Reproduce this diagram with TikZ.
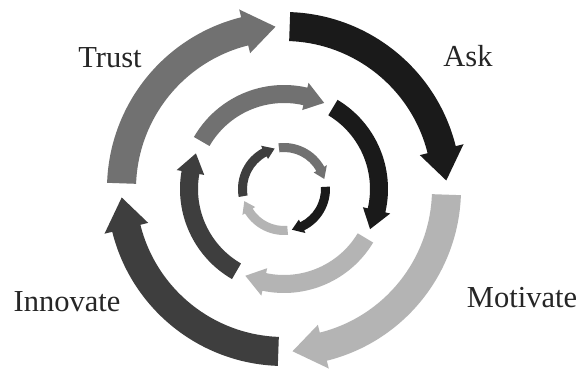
\documentclass[tikz,border=0pt]{standalone}
\usepackage{fontspec}
\setmainfont{Liberation Serif}
\definecolor{askc}{HTML}{1A1A1A}
\definecolor{trustc}{HTML}{717171}
\definecolor{innc}{HTML}{3E3E3E}
\definecolor{motc}{HTML}{B4B4B4}
% #1 colour, #2 tail angle, #3 tip angle, #4 inner r, #5 outer r, #6 flare, #7 head angle
\newcommand\ringarrow[7]{%
  \fill[#1] (#2:#5) arc[start angle=#2, end angle={#3+#7}, radius=#5]
    -- ({#3+#7}:{#5+#6}) -- (#3:{(#4+#5)/2}) -- ({#3+#7}:{#4-#6})
    -- ({#3+#7}:#4) arc[start angle={#3+#7}, end angle=#2, radius=#4] -- cycle;}
\begin{document}
\begin{tikzpicture}[x=1pt,y=1pt,
  lab/.style={anchor=base,font=\fontsize{30.5}{36}\selectfont,text=black!85}]
\useasboundingbox[fill=white] (-284,-182) rectangle (298,189);
% outer ring
\ringarrow{askc}{88}{3}{148}{177}{8}{11}
\ringarrow{motc}{-2}{-87}{148}{177}{8}{11}
\ringarrow{innc}{-92}{-177}{148}{177}{8}{11}
\ringarrow{trustc}{178}{93}{148}{177}{8}{11}
% middle ring
\ringarrow{trustc}{150}{65}{86}{104}{5}{12}
\ringarrow{askc}{59}{-25}{86}{104}{5}{12}
\ringarrow{motc}{-31}{-114}{86}{104}{5}{12}
\ringarrow{innc}{-120}{-202}{86}{104}{5}{12}
% inner ring
\ringarrow{innc}{190}{103}{37}{46}{3}{15}
\ringarrow{trustc}{97}{14}{37}{46}{3}{15}
\ringarrow{askc}{3}{-79}{37}{46}{3}{15}
\ringarrow{motc}{-85}{-163}{37}{46}{3}{15}
% labels
\node[lab] (trust) at (-174,121) {Trust};
\node[lab] (ask) at (184,122) {Ask};
\node[lab] (innovate) at (-217,-123) {Innovate};
\node[lab] (motivate) at (238,-119) {Motivate};
\end{tikzpicture}
\end{document}
